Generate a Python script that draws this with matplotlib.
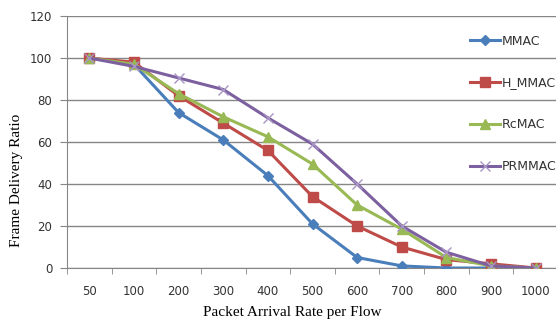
import numpy as np
import matplotlib
matplotlib.use("Agg")
from matplotlib import pyplot as plt

rates = ["50", "100", "200", "300", "400", "500", "600", "700", "800", "900", "1000"]
mmac = [100, 97, 74, 61, 44, 21, 5, 1, 0, 0, 0]
h_mmac = [100, 98, 82, 69, 56, 34, 20, 10, 4, 2, 0]
rcmac = [100, 97, 83, 72, 62.5, 49.5, 30, 18.5, 5, 1, 0]
prmmac = [100, 96, 90.5, 85, 71.5, 59, 40, 20, 7.5, 1, 0]

grid_c = "#868686"
txt_c = "#333333"

fig = plt.figure(figsize=(5.56, 3.24), dpi=100)
ax = fig.add_axes([67 / 556, 1 - 268 / 324, 491 / 556, 252 / 324])
x = np.arange(len(rates))

ax.plot(x, mmac, color="#4A7EBB", lw=2.2, marker="D", ms=5, label="MMAC", zorder=3)
ax.plot(x, h_mmac, color="#BE4B48", lw=2.2, marker="s", ms=7, label="H_MMAC", zorder=3)
ax.plot(x, rcmac, color="#98B954", lw=2.2, marker="^", ms=7, label="RcMAC", zorder=3)
ax.plot(x, prmmac, color="#7D60A0", lw=2.2, marker="x", ms=7, mew=1,
        mec="#A995C5", label="PRMMAC", zorder=3)

ax.set_xlim(-0.5, 10.5)
ax.set_ylim(0, 120)
ax.set_yticks(np.arange(0, 121, 20))
ax.set_xticks(x)
ax.set_xticklabels(rates)
ax.set_xticks(np.arange(-0.5, 10.6, 1), minor=True)
ax.tick_params(axis="x", which="major", length=0, pad=12.5, labelsize=8.5, labelcolor=txt_c)
ax.tick_params(axis="x", which="minor", length=4, color=grid_c)
ax.tick_params(axis="y", length=5, color=grid_c, pad=5.5, labelsize=8.5, labelcolor=txt_c)
ax.grid(axis="y", color=grid_c, lw=1)
ax.set_axisbelow(True)
for s in ["top", "right"]:
    ax.spines[s].set_visible(False)
for s in ["left", "bottom"]:
    ax.spines[s].set_color(grid_c)

ax.set_xlabel("Packet Arrival Rate per Flow", family="Liberation Serif", fontsize=11)
ax.xaxis.set_label_coords((292 - 67) / 491, -38 / 252)
ax.set_ylabel("Frame Delivery Ratio", family="Liberation Serif", fontsize=11)
ax.yaxis.set_label_coords(-44 / 491, (268 - 180) / 252)

leg = fig.legend(loc="upper left", bbox_to_anchor=(466 / 556, 1 - 31 / 324), frameon=False,
                 fontsize=9, labelspacing=2.3, handlelength=2.4, handletextpad=0.15,
                 borderpad=0.3, borderaxespad=0)
for t in leg.get_texts():
    t.set_color(txt_c)

fig.savefig("out.png", dpi=100)
